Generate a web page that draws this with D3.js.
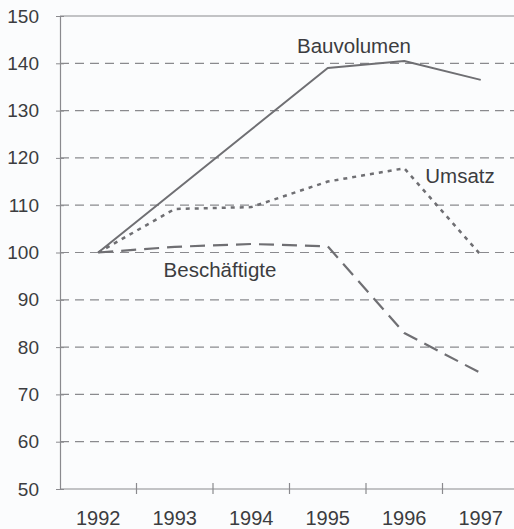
<!DOCTYPE html>
<html>
<head>
<meta charset="utf-8">
<script src="https://cdn.jsdelivr.net/npm/d3@7.9.0/dist/d3.min.js"></script>
<style>
  html, body { margin: 0; padding: 0; background: #fbfcfd; }
  svg { display: block; font-family: "Liberation Sans", Arial, sans-serif; }
</style>
</head>
<body>
<svg id="chart" width="514" height="529"></svg>
<script>
// Data (index, 1992 = 100)
const years = ['1992', '1993', '1994', '1995', '1996', '1997'];
const bauvolumen = [100, 113, 126, 139, 140.5, 136.5];
const umsatz = [100, 109.2, 109.6, 115, 117.8, 99.5];
const beschaeftigte = [100, 101.2, 101.8, 101.3, 83, 74.5];
const yTicks = [50, 60, 70, 80, 90, 100, 110, 120, 130, 140, 150];

const series = [
  { name: 'Bauvolumen', values: bauvolumen, dash: null, width: 2, label: [354, 53] },
  { name: 'Umsatz', values: umsatz, dash: '4,5', width: 2.5, label: [460, 183] },
  { name: 'Beschäftigte', values: beschaeftigte, dash: '15,8', width: 2.2, label: [220, 277] },
];

const svg = d3.select('#chart');
const plotLeft = 60, plotRight = 519, plotTop = 16, plotBottom = 489;
const ink = '#6f6f73';
const textColor = '#3c3c40';

const x = d3.scaleBand().domain(years).range([plotLeft, plotRight]).padding(0);
const y = d3.scaleLinear().domain([50, 150]).range([plotBottom, plotTop]);
const cx = (i) => x(years[i]) + x.bandwidth() / 2;

// Gridlines
svg.append('g')
  .selectAll('line')
  .data(yTicks.filter((d) => d > 50 && d < 150))
  .join('line')
  .attr('x1', plotLeft).attr('x2', 514)
  .attr('y1', (d) => y(d)).attr('y2', (d) => y(d))
  .attr('stroke', '#8a8a8e')
  .attr('stroke-width', 1.2)
  .attr('stroke-dasharray', '9,6');

// Top frame line
svg.append('line')
  .attr('x1', plotLeft).attr('x2', 514)
  .attr('y1', y(150)).attr('y2', y(150))
  .attr('stroke', '#8a8a8e').attr('stroke-width', 1.2);

// Y axis
const yAxis = svg.append('g')
  .attr('transform', `translate(${plotLeft},0)`)
  .call(d3.axisLeft(y).tickValues(yTicks).tickSize(4).tickPadding(17));
yAxis.select('.domain').attr('stroke', '#8a8a8e').attr('stroke-width', 1.2);
yAxis.selectAll('.tick line').attr('stroke', '#8a8a8e').attr('x2', 4).attr('x1', -4);
yAxis.selectAll('.tick text').attr('font-size', 19).attr('fill', textColor)
  .attr('font-family', '"Liberation Sans", Arial, sans-serif');

// X axis
const xAxis = svg.append('g')
  .attr('transform', `translate(0,${plotBottom})`)
  .call(d3.axisBottom(x).tickSize(0).tickPadding(22));
xAxis.select('.domain').attr('stroke', '#8a8a8e').attr('stroke-width', 1.2)
  .attr('d', `M${plotLeft},0H514`);
xAxis.selectAll('.tick text').attr('font-size', 20).attr('fill', textColor)
  .attr('font-family', '"Liberation Sans", Arial, sans-serif');
xAxis.selectAll('.boundary')
  .data(years.slice(1))
  .join('line')
  .attr('class', 'boundary')
  .attr('x1', (d) => x(d)).attr('x2', (d) => x(d))
  .attr('y1', -6).attr('y2', 5)
  .attr('stroke', '#8a8a8e').attr('stroke-width', 1.2);

// Lines
const line = d3.line()
  .x((d, i) => cx(i))
  .y((d) => y(d));

svg.append('g')
  .selectAll('path')
  .data(series)
  .join('path')
  .attr('d', (s) => line(s.values))
  .attr('fill', 'none')
  .attr('stroke', ink)
  .attr('stroke-width', (s) => s.width)
  .attr('stroke-dasharray', (s) => s.dash)
  .attr('stroke-linejoin', 'round');

// Series labels
svg.append('g')
  .selectAll('text')
  .data(series)
  .join('text')
  .attr('x', (s) => s.label[0])
  .attr('y', (s) => s.label[1])
  .attr('text-anchor', 'middle')
  .attr('font-size', 20.5)
  .attr('fill', textColor)
  .text((s) => s.name);
</script>
</body>
</html>
